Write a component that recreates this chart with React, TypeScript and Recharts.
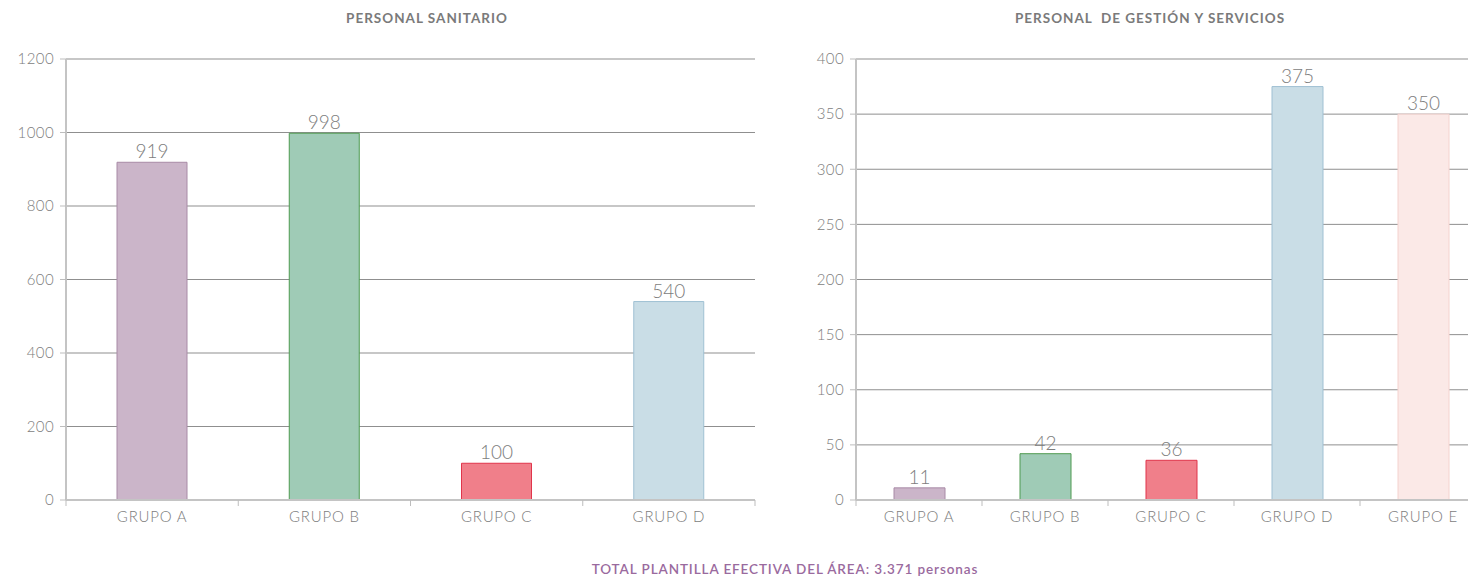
import { BarChart, Bar, XAxis, YAxis, CartesianGrid, Cell, LabelList } from 'recharts';

const sanitarioGroups = ['GRUPO A', 'GRUPO B', 'GRUPO C', 'GRUPO D'];
const sanitarioValues = [919, 998, 100, 540];
const sanitarioTicks = [0, 200, 400, 600, 800, 1000, 1200];

const gestionGroups = ['GRUPO A', 'GRUPO B', 'GRUPO C', 'GRUPO D', 'GRUPO E'];
const gestionValues = [11, 42, 36, 375, 350];
const gestionTicks = [0, 50, 100, 150, 200, 250, 300, 350, 400];

const fillColors = ['#cbb5c9', '#9fcbb6', '#f07f8a', '#c9dde6', '#fbe9e7'];
const strokeColors = ['#a88aa6', '#4f9a50', '#e0354b', '#9fc0d3', '#f4d2ce'];

const FONT = 'Lato, "Open Sans", sans-serif';
const TOP = 59;
const PLOT_H = 441;

// category tick: label centred, small tick mark at the band boundaries
const GroupTick = ({ x, y, payload, index, count, band }: any) => (
  <g>
    <line x1={x - band / 2} x2={x - band / 2} y1={TOP + PLOT_H} y2={TOP + PLOT_H + 6} stroke="#bdbdbd" />
    {index === count - 1 && (
      <line x1={x + band / 2} x2={x + band / 2} y1={TOP + PLOT_H} y2={TOP + PLOT_H + 6} stroke="#bdbdbd" />
    )}
    <text x={x} y={y} dy={14} textAnchor="middle" fill="#7d7d7d" fontSize={15} letterSpacing={0.8} fontFamily={FONT} fontWeight={300}>
      {payload.value}
    </text>
  </g>
);

interface PanelProps {
  groups: string[];
  values: number[];
  ticks: number[];
  width: number;
  barSize: number;
  rightMargin: number;
}

const Panel = ({ groups, values, ticks, width, barSize, rightMargin }: PanelProps) => {
  const data = groups.map((g, i) => ({ name: g, value: values[i] }));
  const band = (width - 66 - rightMargin) / groups.length;
  return (
    <BarChart
      width={width}
      height={560}
      data={data}
      margin={{ top: TOP, right: rightMargin, left: 0, bottom: 560 - TOP - PLOT_H - 30 }}
    >
      <CartesianGrid vertical={false} stroke="#8f8f8f" />
      <XAxis
        dataKey="name"
        height={30}
        tickLine={false}
        axisLine={{ stroke: '#c4c4c4', strokeWidth: 2 }}
        interval={0}
        tick={<GroupTick count={groups.length} band={band} />}
      />
      <YAxis
        width={66}
        domain={[0, ticks[ticks.length - 1]]}
        ticks={ticks}
        interval={0}
        tickSize={6}
        tickMargin={6}
        tickLine={{ stroke: '#bdbdbd' }}
        axisLine={{ stroke: '#c4c4c4', strokeWidth: 2 }}
        tick={{ fill: '#7d7d7d', fontSize: 15, fontFamily: FONT, fontWeight: 300, letterSpacing: 0.4 }}
      />
      <Bar dataKey="value" barSize={barSize} isAnimationActive={false}>
        {data.map((_, i) => (
          <Cell key={i} fill={fillColors[i]} stroke={strokeColors[i]} strokeWidth={1} />
        ))}
        <LabelList dataKey="value" position="top" offset={4} fill="#7d7d7d" fontSize={19} fontFamily={FONT} fontWeight={300} />
      </Bar>
    </BarChart>
  );
};

const titleStyle = {
  position: 'absolute' as const,
  top: 10,
  fontFamily: FONT,
  fontWeight: 700,
  fontSize: 13.5,
  letterSpacing: 1,
  color: '#7a7a7a',
  textAlign: 'center' as const,
  whiteSpace: 'pre' as const,
};

export default function App() {
  return (
    <div style={{ position: 'absolute', left: 0, top: 0, width: 1468, height: 579, overflow: 'hidden', background: '#fff' }}>
      <div style={{ ...titleStyle, left: 227, width: 400 }}>PERSONAL SANITARIO</div>
      <div style={{ ...titleStyle, left: 950, width: 400 }}>PERSONAL  DE GESTIÓN Y SERVICIOS</div>
      <div style={{ position: 'absolute', left: 0, top: 0 }}>
        <Panel groups={sanitarioGroups} values={sanitarioValues} ticks={sanitarioTicks} width={770} barSize={70} rightMargin={15} />
      </div>
      <div style={{ position: 'absolute', left: 790, top: 0 }}>
        <Panel groups={gestionGroups} values={gestionValues} ticks={gestionTicks} width={706} barSize={51} rightMargin={10} />
      </div>
      <div
        style={{
          position: 'absolute',
          left: 0,
          width: 1570,
          top: 561,
          textAlign: 'center',
          fontFamily: FONT,
          fontWeight: 600,
          fontSize: 13.5,
          letterSpacing: 0.9,
          color: '#9a6a9e',
        }}
      >
        TOTAL PLANTILLA EFECTIVA DEL ÁREA: 3.371 personas
      </div>
    </div>
  );
}
